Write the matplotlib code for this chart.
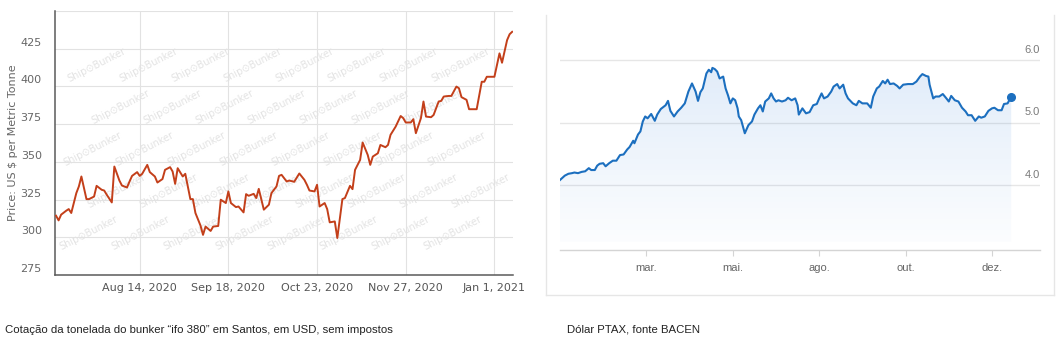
import numpy as np
import pandas as pd
import matplotlib
matplotlib.use("Agg")
import matplotlib.pyplot as plt
import matplotlib.dates as mdates
from matplotlib.lines import Line2D

# --- IFO 380 bunker price in Santos (USD per metric tonne) ---
BUNKER_BASE = "2020-08-14"
bunker_day = [
    -33, -32, -31, -29, -28, -27, -25, -24, -23, -21,
    -20, -18, -17, -15, -14, -13, -11, -10, -8, -7,
    -5, -4, -3, -1, 0, 1, 3, 4, 6, 7,
    9, 10, 12, 13, 14, 15, 17, 18, 20, 21,
    22, 24, 25, 26, 28, 29, 31, 32, 34, 35,
    36, 38, 39, 41, 42, 43, 45, 46, 47, 49,
    51, 52, 54, 55, 56, 58, 59, 61, 63, 65,
    66, 67, 69, 70, 71, 73, 74, 75, 77, 78,
    80, 81, 83, 84, 85, 87, 88, 90, 91, 92,
    94, 95, 97, 98, 99, 101, 103, 104, 105, 107,
    108, 109, 111, 112, 113, 115, 116, 118, 119, 120,
    122, 123, 125, 126, 127, 129, 130, 132, 133, 135,
    136, 137, 138, 140, 142, 143, 145, 146, 147,
]
bunker_price = [
    314.3, 311.2, 315.0, 317.6, 318.7, 316.1, 329.3, 333.7, 340.3, 325.3,
    325.3, 327.0, 334.1, 331.5, 331.0, 328.2, 323.1, 346.9, 337.6, 334.3,
    333.0, 337.0, 340.7, 343.2, 340.7, 342.1, 348.0, 343.2, 340.3, 336.3,
    338.6, 344.7, 346.5, 343.6, 335.4, 345.8, 340.3, 342.1, 325.3, 325.3,
    316.1, 307.8, 301.6, 307.1, 304.2, 307.1, 307.5, 324.9, 322.7, 330.4,
    322.7, 320.0, 320.4, 316.5, 328.6, 327.5, 328.8, 326.0, 332.1, 318.3,
    321.6, 329.3, 333.7, 340.7, 341.4, 337.0, 337.6, 336.8, 342.3, 338.1,
    334.8, 331.0, 330.4, 334.8, 320.4, 322.7, 318.7, 309.9, 310.5, 299.5,
    325.3, 326.0, 334.1, 331.9, 344.7, 351.3, 362.8, 354.6, 348.0, 353.5,
    355.7, 361.2, 359.7, 361.2, 367.9, 373.3, 380.4, 379.0, 376.1, 376.1,
    378.3, 369.0, 379.0, 390.0, 380.0, 379.6, 381.1, 390.0, 390.4, 393.3,
    393.7, 393.7, 399.9, 398.8, 392.9, 391.1, 384.9, 384.9, 384.9, 403.1,
    403.1, 406.4, 406.4, 406.4, 421.9, 415.7, 430.7, 434.6, 436.2,
]
bunker_ticks = ["2020-08-14", "2020-09-18", "2020-10-23", "2020-11-27", "2021-01-01"]
bunker_tick_labels = ["Aug 14, 2020", "Sep 18, 2020", "Oct 23, 2020", "Nov 27, 2020", "Jan 1, 2021"]
bunker_yticks = [275, 300, 325, 350, 375, 400, 425]
bunker_caption = "Cotação da tonelada do bunker \u201cifo 380\u201d em Santos, em USD, sem impostos"

# --- PTAX dollar rate (BRL per USD) ---
PTAX_BASE = "2020-01-02"
ptax_day = [
    0, 4, 7, 10, 12, 15, 18, 21, 24, 26,
    29, 31, 33, 36, 38, 41, 44, 47, 50, 53,
    56, 58, 61, 62, 65, 67, 69, 71, 73, 76,
    79, 81, 84, 88, 90, 92, 95, 98, 101, 104,
    107, 110, 113, 115, 117, 119, 122, 124, 126, 127,
    129, 131, 133, 136, 138, 140, 142, 144, 146, 148,
    149, 151, 154, 157, 160, 162, 165, 167, 169, 171,
    174, 176, 178, 180, 182, 185, 188, 190, 193, 196,
    198, 199, 202, 205, 208, 211, 214, 216, 218, 220,
    223, 226, 228, 231, 233, 236, 238, 240, 244, 247,
    249, 252, 256, 259, 261, 264, 266, 269, 271, 273,
    275, 278, 281, 283, 286, 290, 294, 297, 300, 302,
    305, 307, 308, 311, 313, 316, 319, 322, 324, 326,
    329, 332, 335, 338, 340, 343, 346, 349, 351, 354,
    357, 360, 362, 365, 368, 370, 373, 376,
]
ptax_rate = [
    4.08, 4.15, 4.18, 4.19, 4.20, 4.19, 4.21, 4.22, 4.27, 4.24,
    4.24, 4.31, 4.34, 4.35, 4.30, 4.35, 4.39, 4.39, 4.48, 4.49,
    4.57, 4.61, 4.71, 4.67, 4.81, 4.86, 5.02, 5.10, 5.07, 5.14,
    5.03, 5.13, 5.22, 5.28, 5.35, 5.19, 5.10, 5.18, 5.24, 5.31,
    5.50, 5.63, 5.50, 5.35, 5.49, 5.55, 5.79, 5.85, 5.81, 5.88,
    5.86, 5.82, 5.71, 5.74, 5.55, 5.44, 5.31, 5.39, 5.36, 5.23,
    5.10, 5.04, 4.83, 4.96, 5.02, 5.13, 5.23, 5.28, 5.18, 5.34,
    5.39, 5.47, 5.39, 5.34, 5.36, 5.34, 5.36, 5.40, 5.36, 5.39,
    5.28, 5.13, 5.23, 5.15, 5.17, 5.28, 5.30, 5.39, 5.47, 5.39,
    5.42, 5.50, 5.58, 5.62, 5.55, 5.61, 5.47, 5.39, 5.31, 5.28,
    5.35, 5.31, 5.31, 5.24, 5.42, 5.55, 5.58, 5.67, 5.63, 5.69,
    5.62, 5.63, 5.59, 5.55, 5.61, 5.62, 5.62, 5.66, 5.74, 5.78,
    5.75, 5.74, 5.61, 5.39, 5.42, 5.42, 5.46, 5.39, 5.34, 5.43,
    5.36, 5.34, 5.24, 5.18, 5.12, 5.12, 5.03, 5.10, 5.08, 5.10,
    5.19, 5.23, 5.24, 5.20, 5.20, 5.30, 5.31, 5.42,
]
ptax_ticks = ["2020-03-14", "2020-05-25", "2020-08-05", "2020-10-16", "2020-12-27"]
ptax_tick_labels = ["mar.", "mai.", "ago.", "out.", "dez."]
ptax_yticks = [4.0, 5.0, 6.0]
ptax_caption = "Dólar PTAX, fonte BACEN"

W, H = 1061, 342
NARROW = ["Liberation Sans Narrow", "Liberation Sans", "DejaVu Sans"]


def add_axes_px(fig, left, top, right, bottom):
    """Axes placed by pixel edges measured from the top-left corner."""
    return fig.add_axes([left / W, 1 - bottom / H, (right - left) / W, (bottom - top) / H])


fig = plt.figure(figsize=(W / 100, H / 100), dpi=100)
fig.patch.set_facecolor("white")

# ---------------- bunker price chart ----------------
AX_W, AX_H = 458, 264
ax = add_axes_px(fig, 55, 11, 55 + AX_W, 11 + AX_H)
b_dates = pd.Timestamp(BUNKER_BASE) + pd.to_timedelta(bunker_day, unit="D")
ax.set_xlim(b_dates[0] - pd.Timedelta(hours=10), b_dates[-1] + pd.Timedelta(hours=8))
ax.set_ylim(275, 450)

# faint "Ship Bunker" watermark tiles, only whole tiles inside the plot area
for j in range(-1, 8):
    for i in range(-2, 11):
        px = 18 + i * 52 + j * 24
        py = 12 + j * 42
        if not (32 <= px <= AX_W - 32 and 17 <= py <= AX_H - 17):
            continue
        ax.text(px / AX_W, 1 - py / AX_H, "Ship\u2299Bunker", transform=ax.transAxes,
                rotation=27, fontsize=7, color="#e3e3e3", ha="center", va="center",
                zorder=0)

ax.plot(b_dates, bunker_price, color="#c33f1a", lw=1.4, zorder=3, solid_joinstyle="round")

ax.set_yticks(bunker_yticks + [450])
ax.set_yticklabels([])
ax.set_xticks(pd.to_datetime(bunker_ticks))
ax.set_xticklabels(bunker_tick_labels, fontsize=8, color="#555555")
ax.tick_params(axis="x", length=0, pad=5.5)
ax.tick_params(axis="y", length=0)
ax.grid(True, color="#e2e2e2", lw=0.8, zorder=1)
for v in bunker_yticks:
    ax.annotate(str(v), xy=(0, v), xycoords=("axes fraction", "data"),
                xytext=(-9.5, 4.3), textcoords="offset points",
                ha="right", va="center", fontsize=8, color="#666666")
for side in ("top", "right"):
    ax.spines[side].set_visible(False)
for side in ("left", "bottom"):
    ax.spines[side].set_color("#5a5a5a")
    ax.spines[side].set_linewidth(1.1)
ax.set_ylabel("Price: US $ per Metric Tonne", fontsize=8, color="#666666", labelpad=23)

# ---------------- PTAX chart ----------------
bx = add_axes_px(fig, 560, 41.7, 1040, 250.4)
p_dates = pd.Timestamp(PTAX_BASE) + pd.to_timedelta(ptax_day, unit="D")
p_num = mdates.date2num(p_dates)
x0 = mdates.date2num(pd.Timestamp(PTAX_BASE))

# gradient area under the curve
fill_floor = 3.08
poly = bx.fill_between(p_num, ptax_rate, fill_floor, facecolor="none", edgecolor="none")
grad = np.zeros((256, 1, 4))
grad[..., 0] = 0.16
grad[..., 1] = 0.47
grad[..., 2] = 0.84
grad[..., 3] = np.linspace(0.015, 0.14, 256)[:, None]
img = bx.imshow(grad, extent=[p_num[0], p_num[-1], fill_floor, max(ptax_rate)],
                origin="lower", aspect="auto", zorder=1, interpolation="bilinear")
img.set_clip_path(poly.get_paths()[0], transform=bx.transData)
bx.set_xlim(x0, x0 + 400)
bx.set_ylim(2.95, 6.3)

bx.plot(p_num, ptax_rate, color="#1c6fbf", lw=1.5, zorder=3, solid_joinstyle="round")
bx.plot(p_num[-1], ptax_rate[-1], "o", color="#1c6fbf", ms=5.5, zorder=4)

for v in ptax_yticks:
    bx.axhline(v, color="#e6e6e6", lw=1, zorder=0)
    bx.annotate(f"{v:.1f}", xy=(1, v), xycoords=("axes fraction", "data"),
                xytext=(0, 7.5), textcoords="offset points",
                ha="right", va="center", fontsize=8, color="#7a7a7a", family=NARROW)
bx.set_yticks([])
bx.set_xticks(mdates.date2num(pd.to_datetime(ptax_ticks)))
bx.set_xticklabels(ptax_tick_labels, fontsize=8, color="#666666", family=NARROW)
bx.tick_params(axis="x", length=4.5, width=0.8, color="#d4d4d4", pad=4.5)
for side in ("top", "right", "left"):
    bx.spines[side].set_visible(False)
bx.spines["bottom"].set_color("#d4d4d4")
bx.spines["bottom"].set_linewidth(1.0)

# thin frame around the PTAX panel (left, right and bottom edges)
frame = dict(color="#e6e6e6", lw=1.0, transform=fig.transFigure)
fx0, fx1 = 545.5 / W, 1054 / W
fy0, fy1 = 1 - 295 / H, 1 - 15 / H
fig.add_artist(Line2D([fx0, fx0], [fy0, fy1], **frame))
fig.add_artist(Line2D([fx1, fx1], [fy0, fy1], **frame))
fig.add_artist(Line2D([fx0, fx1], [fy0, fy0], **frame))

# captions
fig.text(5 / W, 1 - 330 / H, bunker_caption, fontsize=8.2, color="#222222",
         family=NARROW, va="center", ha="left")
fig.text(567 / W, 1 - 330 / H, ptax_caption, fontsize=8.2, color="#222222",
         family=NARROW, va="center", ha="left")

fig.savefig("out.png", dpi=100, facecolor="white")
